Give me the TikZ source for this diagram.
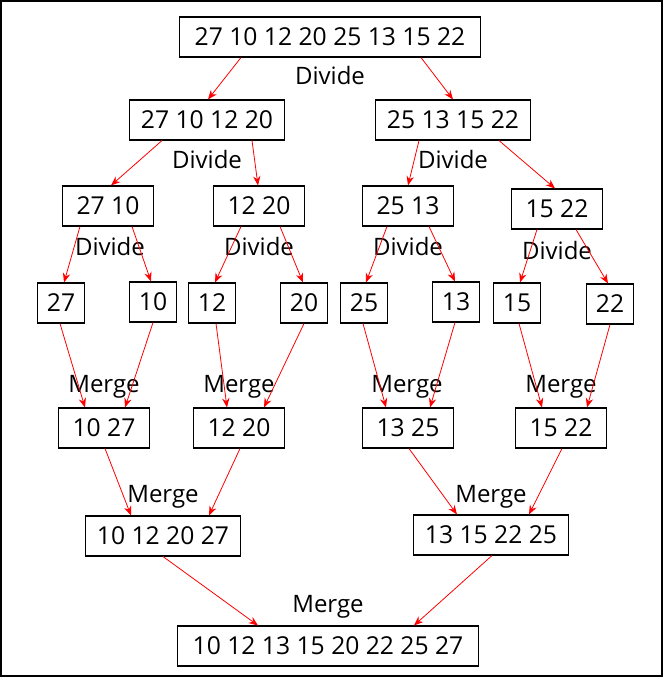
\documentclass[tikz,border=0pt]{standalone}
\usepackage{fontspec}
\setmainfont{Open Sans}
\usetikzlibrary{arrows.meta,calc}
\tikzset{
	numbox/.style = {rectangle, draw=black, line width=0.8pt, inner sep=0pt,
		minimum height=30pt, align=center, font=\fontsize{18.5}{21}\selectfont},
	box_viii/.style = {numbox, minimum width=225.75pt},
	box_iv/.style = {numbox, minimum width=116pt},
	box_ii/.style = {numbox, minimum width=68.25pt},
	box_i/.style = {numbox, minimum width=35.25pt},
	lbl/.style = {inner sep=0pt, font=\fontsize{18}{21}\selectfont},
	arr/.style = {red, line width=0.6pt, -{Stealth[length=7pt,width=5.5pt]}}
}

\begin{document}
\begin{tikzpicture}[x=0.75pt,y=-0.75pt]
\useasboundingbox (0,0) rectangle (663,677);
\draw[line width=1.2pt] (1,1) rectangle (662,676);

% divide part
\node[box_viii] (r) at (330,37) {27 10 12 20 25 13 15 22};
\node[box_iv] (dl) at (207,120) {27 10 12 20};
\node[box_iv] (dr) at (453,120) {25 13 15 22};
\node[box_ii] (da) at (108,206) {27 10};
\node[box_ii] (db) at (259,206) {12 20};
\node[box_ii] (dc) at (408,206) {25 13};
\node[box_ii] (dd) at (557,209) {15 22};
\node[box_i] (l27) at (61,303) {27};
\node[box_i] (l10) at (153,302) {10};
\node[box_i] (l12) at (212,303) {12};
\node[box_i] (l20) at (304,303) {20};
\node[box_i] (l25) at (364,303) {25};
\node[box_i] (l13) at (456,302) {13};
\node[box_i] (l15) at (517,303) {15};
\node[box_i] (l22) at (610,304) {22};

% merge part
\node[box_ii] (ma) at (104,428) {10 27};
\node[box_ii] (mb) at (239,428) {12 20};
\node[box_ii] (mc) at (408,428) {13 25};
\node[box_ii] (md) at (561,428) {15 22};
\node[box_iv] (ml) at (163,536) {10 12 20 27};
\node[box_iv] (mr) at (491,535) {13 15 22 25};
\node[box_viii] (f) at (328,646) {10 12 13 15 20 22 25 27};

% labels
\foreach \x/\y [count=\i] in {330/76,207/160,453/160,110/246,259/246,408/246,557/250}
	\node[lbl] (dv\i) at (\x,\y) {Divide};
\foreach \x/\y [count=\i] in {104/387,239/387,407/387,561/387,163/497,491/497,328/607}
	\node[lbl] (mg\i) at (\x,\y) {Merge};

% arrows: from/offset/to/offset
\foreach \a/\da/\b/\db in {r/-89/dl/1, r/91/dr/0,
	dl/-45/da/3, dl/45/db/-1, dr/-34/dc/0, dr/46/dd/-2,
	da/-28/l27/3, da/24/l10/-2, db/-18/l12/3, db/21/l20/-1,
	dc/-21/l25/2, dc/21/l13/-1, dd/-20/l15/3, dd/19/l22/-2,
	l27/-1/ma/-19, l10/0/ma/21, l12/4/mb/-12, l20/0/mb/25,
	l25/-1/mc/-22, l13/-1/mc/22, l15/2/md/-19, l22/0/md/26,
	ma/1/ml/-32, mb/1/ml/46, mc/1/mr/-34, md/1/mr/38,
	ml/0/f/-70, mr/1/f/86}
	\draw[arr] ($(\a.south)+(\da,0)$) -- ($(\b.north)+(\db,0)$);
\end{tikzpicture}
\end{document}
